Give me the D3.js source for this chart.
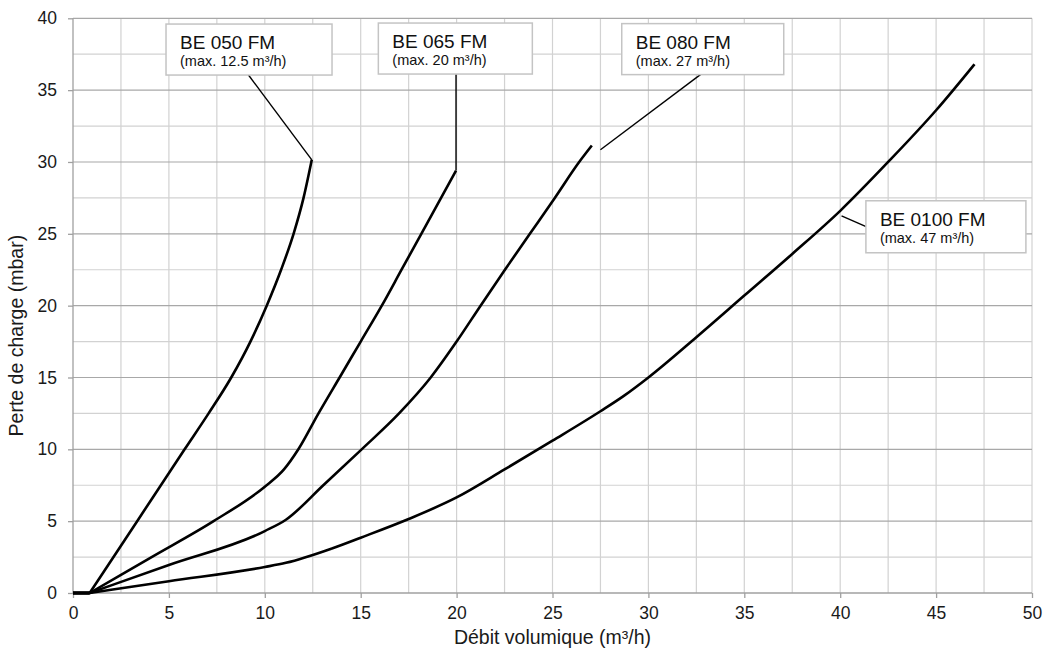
<!DOCTYPE html>
<html><head><meta charset="utf-8">
<script src="https://cdn.jsdelivr.net/npm/d3@7"></script>
<style>
body{margin:0;background:#fff}
svg{display:block}
text{font-family:"Liberation Sans",Arial,Helvetica,sans-serif}
</style>
</head><body>
<svg id="chart" width="1043" height="654"></svg>
<script>
// ---- data ----
const xTicks = [0,5,10,15,20,25,30,35,40,45,50];
const yTicks = [0,5,10,15,20,25,30,35,40];
const xTitle = "Débit volumique (m³/h)";
const yTitle = "Perte de charge (mbar)";

const seriesNames = ["BE 050 FM","BE 065 FM","BE 080 FM","BE 0100 FM"];
const maxLabels = ["(max. 12.5 m³/h)","(max. 20 m³/h)","(max. 27 m³/h)","(max. 47 m³/h)"];

const be050X = [0,0.87,3.345,5.82,7.07,8.25,9.25,10.1,10.85,11.5,12.02,12.45];
const be050Y = [0,0,5,10,12.5,15,17.5,20,22.5,25,27.5,30.15];

const be065X = [0,0.87,4.1,7.33,10.0,11.0,11.75,12.8,13.9,15.0,16.1,17.13,18.16,19.19,19.97];
const be065Y = [0,0,2.5,5,7.4,8.6,10,12.5,15,17.5,20,22.5,25,27.5,29.4];

const be080X = [0,0.87,5,10,11.1,13.05,15.05,17.0,18.65,20.0,21.25,22.52,23.82,25.12,26.39,27.05];
const be080Y = [0,0,1.95,4.31,5.1,7.5,10,12.5,15,17.5,20,22.5,25,27.5,30,31.15];

const be0100X = [0,0.87,5,10,11.1,13.5,15,17.5,20,22.5,25,27.5,28.7,30,32.5,35,37.5,40,42.5,45,47.0];
const be0100Y = [0,0,0.82,1.81,2.1,3.1,3.85,5.15,6.65,8.6,10.6,12.65,13.7,15.0,17.8,20.7,23.6,26.6,30.0,33.6,36.8];

// leader lines (data units): from label box to curve
const leader050 = [[9.14,36.07],[12.45,30.15]];
const leader065 = [[19.97,36.1],[19.97,29.4]];
const leader080 = [[32.78,36.15],[27.5,30.85]];
const leader0100 = [[41.35,25.5],[40.07,26.25]];

// ---- layout ----
const plot = {left:73, right:1032, top:18.3, bottom:593};
const boxes = [ // box anchor (data units, top-left) and size (px)
  {x:4.85, y:39.6, w:166, h:51},
  {x:15.92, y:39.67, w:154, h:51},
  {x:28.61, y:39.63, w:162, h:51},
  {x:41.34, y:27.3, w:160, h:52}
];

const svg = d3.select("#chart");
const x = d3.scaleLinear().domain([0,50]).range([plot.left, plot.right]);
const y = d3.scaleLinear().domain([0,40]).range([plot.bottom, plot.top]);

// grid
const vGrid = d3.range(2.5, 50.01, 2.5);
const hMinor = d3.range(2.5, 40, 5);
const hMajor = d3.range(5, 40.01, 5);
const g = svg.append("g");
g.selectAll(".vg").data(vGrid).join("line")
  .attr("x1", d=>x(d)).attr("x2", d=>x(d)).attr("y1", y(0)).attr("y2", y(40))
  .attr("stroke", "#d2d2d2").attr("stroke-width", 1.2);
g.selectAll(".hmin").data(hMinor).join("line")
  .attr("x1", x(0)).attr("x2", x(50)).attr("y1", d=>y(d)).attr("y2", d=>y(d))
  .attr("stroke", "#d2d2d2").attr("stroke-width", 1.2);
g.selectAll(".hmaj").data(hMajor).join("line")
  .attr("x1", x(0)).attr("x2", x(50)).attr("y1", d=>y(d)).attr("y2", d=>y(d))
  .attr("stroke", "#a8a8a8").attr("stroke-width", 1.2);

// axes
const xAxis = d3.axisBottom(x).tickValues(xTicks).tickSize(5).tickPadding(9).tickFormat(d3.format("d"));
const yAxis = d3.axisLeft(y).tickValues(yTicks).tickSize(5).tickPadding(11).tickFormat(d3.format("d"));
const gx = svg.append("g").attr("transform", `translate(0,${plot.bottom})`).call(xAxis);
const gy = svg.append("g").attr("transform", `translate(${plot.left},0)`).call(yAxis);
[gx, gy].forEach(a => {
  a.select(".domain").attr("stroke", "#a0a0a0").attr("stroke-width", 1.3);
  a.selectAll(".tick line").attr("stroke", "#a0a0a0").attr("stroke-width", 1.3);
  a.selectAll(".tick text").attr("fill", "#1a1a1a").style("font-size", "17.5px")
    .style("font-family", '"Liberation Sans",Arial,sans-serif');
});
gx.select(".domain").attr("d", `M${plot.left},0H${plot.right}`);
gy.select(".domain").attr("d", `M0,${plot.bottom}V${plot.top}`);

// axis titles
svg.append("text").attr("x", (plot.left+plot.right)/2).attr("y", 644)
  .attr("text-anchor","middle").attr("fill","#1a1a1a").style("font-size","19.5px").text(xTitle);
svg.append("text").attr("transform", `translate(23,${(plot.top+plot.bottom)/2 + 30}) rotate(-90)`)
  .attr("text-anchor","middle").attr("fill","#1a1a1a").style("font-size","19.5px").text(yTitle);

// curves
const seriesX = [be050X, be065X, be080X, be0100X];
const seriesY = [be050Y, be065Y, be080Y, be0100Y];
const lineLin = d3.line().x(d=>x(d[0])).y(d=>y(d[1]));
const lineSmooth = d3.line().x(d=>x(d[0])).y(d=>y(d[1])).curve(d3.curveMonotoneX);
seriesX.forEach((xs, i) => {
  const pts = xs.map((v, j) => [v, seriesY[i][j]]);
  svg.append("path").attr("d", lineLin(pts.slice(0, 2)))
    .attr("fill","none").attr("stroke","#000").attr("stroke-width",2.8);
  svg.append("path").attr("d", lineSmooth(pts.slice(1)))
    .attr("fill","none").attr("stroke","#000").attr("stroke-width",2.6)
    .attr("stroke-linejoin","round");
});

// leaders
[leader050, leader065, leader080, leader0100].forEach(l => {
  svg.append("path").attr("d", lineLin(l)).attr("fill","none")
    .attr("stroke","#000").attr("stroke-width",1.4);
});

// label boxes
boxes.forEach((b, i) => {
  const bx = x(b.x), by = y(b.y);
  const gb = svg.append("g").attr("transform", `translate(${bx},${by})`);
  gb.append("rect").attr("width", b.w).attr("height", b.h)
    .attr("fill","#fff").attr("stroke","#c4c4c4").attr("stroke-width",1.5);
  gb.append("text").attr("x",14).attr("y",25).attr("fill","#111")
    .style("font-size","19px").text(seriesNames[i]);
  gb.append("text").attr("x",14).attr("y",42).attr("fill","#111")
    .style("font-size","14.5px").text(maxLabels[i]);
});
</script>
</body></html>
